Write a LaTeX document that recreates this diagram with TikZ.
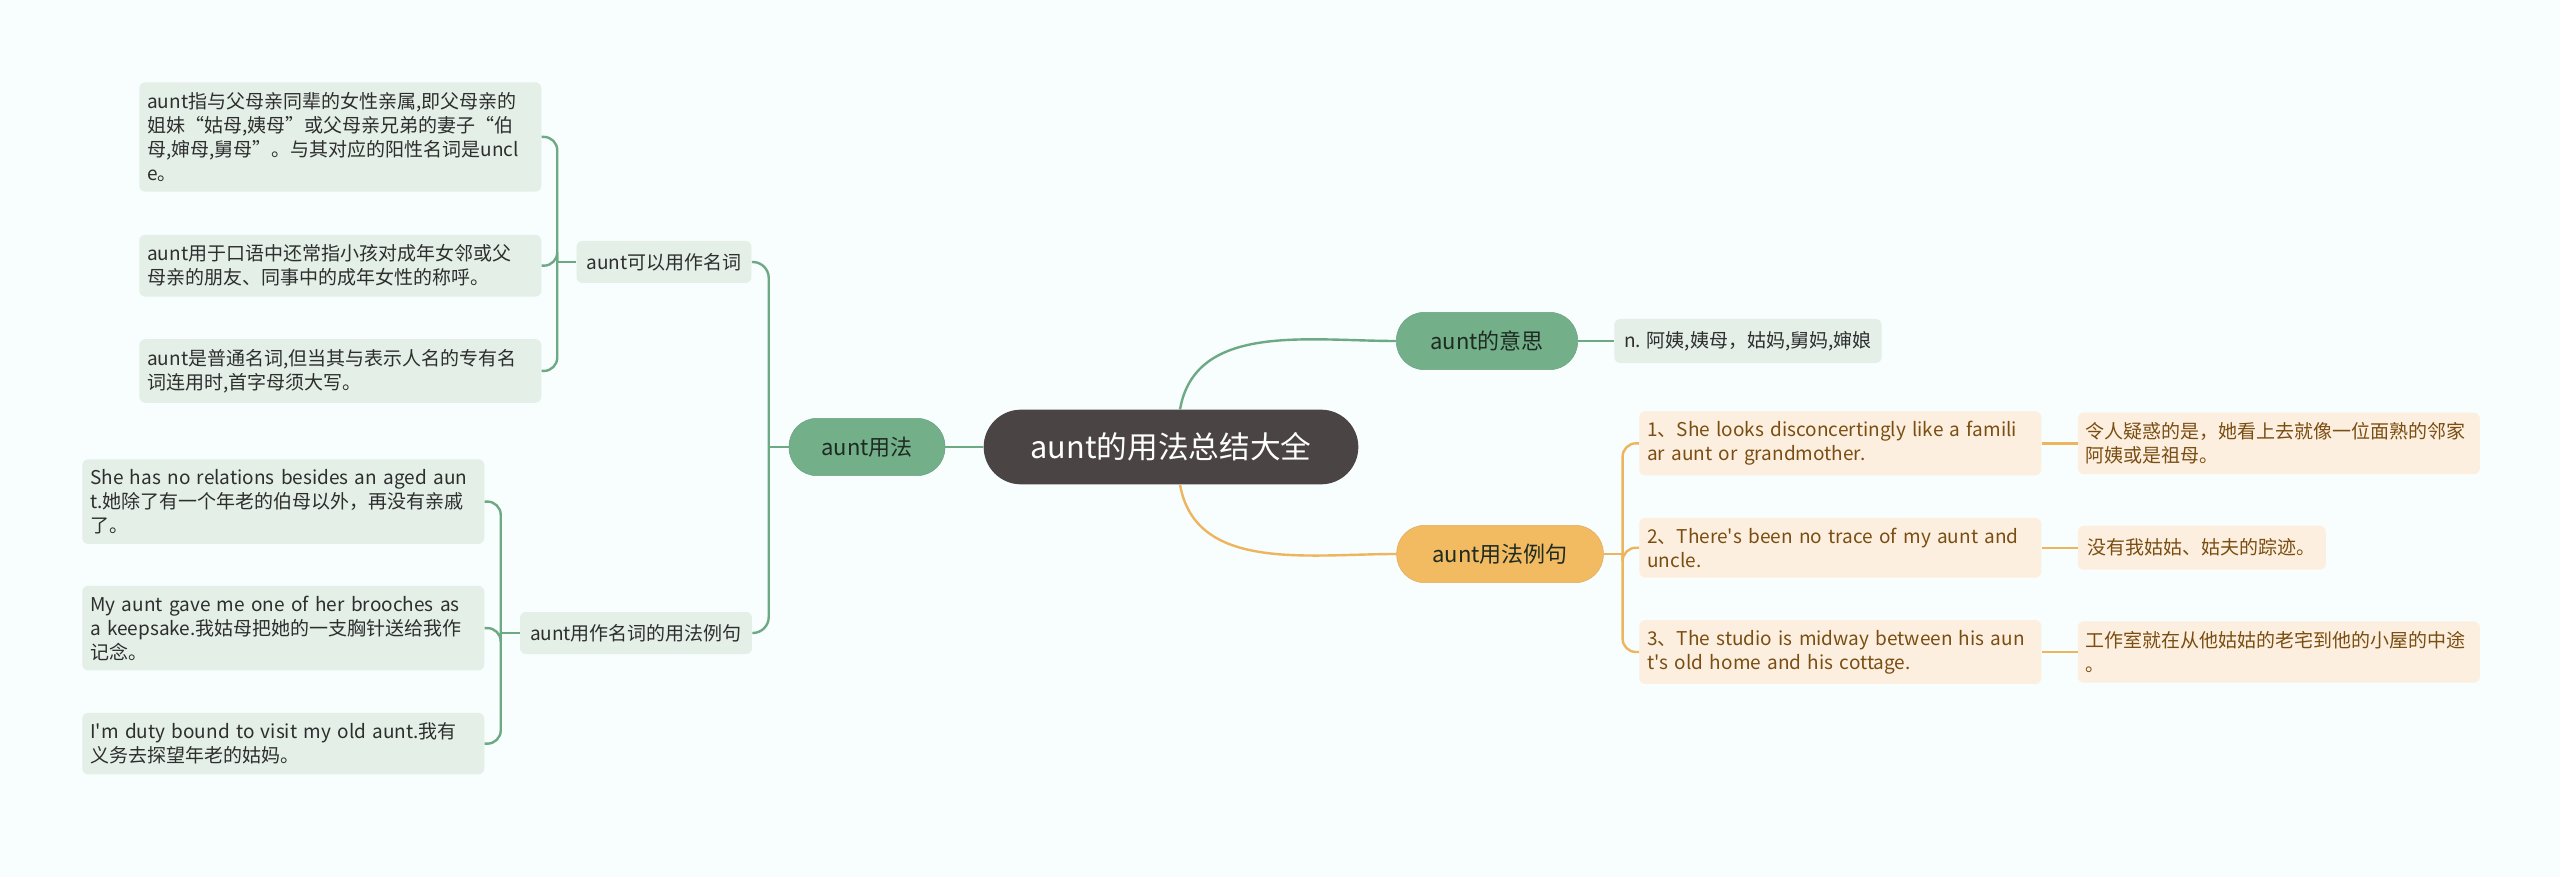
\documentclass[tikz,border=0pt]{standalone}
\usepackage{fontspec}
\setmainfont{Noto Sans CJK SC}
\usetikzlibrary{positioning,calc}
\definecolor{bgcol}{HTML}{F8FDFD}
\definecolor{rootcol}{HTML}{4A4544}
\definecolor{greencol}{HTML}{73B08A}
\definecolor{greenline}{HTML}{6DAA84}
\definecolor{greenlite}{HTML}{E3EFE7}
\definecolor{orangecol}{HTML}{F2BB62}
\definecolor{orangeline}{HTML}{ECB55E}
\definecolor{orangelite}{HTML}{FDEFDF}
\definecolor{browntext}{HTML}{7A4E12}
\definecolor{darktext}{HTML}{2E2E2E}
\definecolor{topictext}{HTML}{1E2B22}

\begin{document}
\begin{tikzpicture}[
  x=0.75pt, y=0.75pt,
  every node/.style={font=\fontsize{14.25}{18}\selectfont, text=darktext},
  %% dark centre pill
  root/.style={
    fill=rootcol, text=white,
    rounded corners=28pt,
    minimum width=281pt, minimum height=56pt,
    font=\fontsize{23}{27}\selectfont
  },
  %% coloured main branch  \node[topic=orangecol]{...}
  topic/.style={
    fill=#1, draw=#1!92!black,
    rounded corners=21pt,
    minimum height=43pt,
    font=\fontsize{16.5}{20}\selectfont, text=topictext
  },
  topic/.default=greencol,
  %% small green sub-branch
  sub/.style={
    fill=greenlite, rounded corners=4.5pt,
    minimum height=31.5pt, inner xsep=7.5pt
  },
  %% text boxes at the ends
  leaf/.style={
    fill=#1, rounded corners=4.5pt,
    text width=289.5pt, align=left,
    inner xsep=6pt, inner ysep=7.5pt
  },
  leaf/.default=greenlite,
  short/.style={
    fill=#1, rounded corners=4.5pt, align=left,
    minimum height=33pt, inner xsep=7.5pt
  },
  short/.default=greenlite,
  %% connectors
  link/.style={line width=1.8pt, draw=#1},
  link/.default=greenline,
]

\fill[bgcol] (0,0) rectangle (2560,-877);

%%── Centre and main branches ────────────────────────────────────────────────
\node[root] (root) at (1171,-447) {aunt的用法总结大全};

\node[topic, minimum width=117pt] (use)  at (867,-447)  {aunt用法};
\node[topic, minimum width=136pt] (mean) at (1487,-341) {aunt的意思};
\node[topic=orangecol, minimum width=155pt] (ex) at (1500,-554) {aunt用法例句};

%%── Left: aunt用法 ───────────────────────────────────────────────────────────
\node[sub] (noun)  at (664,-262) {aunt可以用作名词};
\node[sub] (nounex) at (636,-633) {aunt用作名词的用法例句};

\node[leaf, anchor=north west] (noun1) at (139,-82)
  {aunt指与父母亲同辈的女性亲属,即父母亲的\\
   姐妹“姑母,姨母”或父母亲兄弟的妻子“伯\\
   母,婶母,舅母”。与其对应的阳性名词是uncl\\
   e。};
\node[leaf, below=32pt of noun1] (noun2)
  {aunt用于口语中还常指小孩对成年女邻或父\\
   母亲的朋友、同事中的成年女性的称呼。};
\node[leaf, below=31.5pt of noun2] (noun3)
  {aunt是普通名词,但当其与表示人名的专有名\\
   词连用时,首字母须大写。};

\node[leaf, anchor=north west] (nounex1) at (82,-459)
  {She has no relations besides an aged aun\\
   t.她除了有一个年老的伯母以外，再没有亲戚\\
   了。};
\node[leaf, below=31pt of nounex1] (nounex2)
  {My aunt gave me one of her brooches as\\
   a keepsake.我姑母把她的一支胸针送给我作\\
   记念。};
\node[leaf, below=31.5pt of nounex2] (nounex3)
  {I\textquotesingle m duty bound to visit my old aunt.我有\\
   义务去探望年老的姑妈。};

%%── Right: aunt的意思 ───────────────────────────────────────────────────────
\node[short, anchor=west] (mean1) at (1614,-341) {n. 阿姨,姨母，姑妈,舅妈,婶娘};

%%── Right: aunt用法例句 ─────────────────────────────────────────────────────
\node[leaf=orangelite, text=browntext, anchor=north west] (ex1) at (1639,-411)
  {1、She looks disconcertingly like a famili\\
   ar aunt or grandmother.};
\node[leaf=orangelite, text=browntext, below=31.5pt of ex1] (ex2)
  {2、There\textquotesingle s been no trace of my aunt and\\
   uncle.};
\node[leaf=orangelite, text=browntext, below=31.5pt of ex2] (ex3)
  {3、The studio is midway between his aun\\
   t\textquotesingle s old home and his cottage.};

\node[leaf=orangelite, text=browntext, right=27pt of ex1] (tr1)
  {令人疑惑的是，她看上去就像一位面熟的邻家\\
   阿姨或是祖母。};
\node[short=orangelite, text=browntext, right=27pt of ex2] (tr2)
  {没有我姑姑、姑夫的踪迹。};
\node[leaf=orangelite, text=browntext, right=27pt of ex3] (tr3)
  {工作室就在从他姑姑的老宅到他的小屋的中途\\
   。};

%%── Junction points ──────────────────────────────────────────────────────────
\coordinate (rtop) at ($(root.north)+(9,0)$);
\coordinate (rbot) at ($(root.south)+(9,0)$);
\coordinate (juse)    at ($(use.west)+(-20,0)$);
\coordinate (jnoun)   at ($(noun.west)+(-19,0)$);
\coordinate (jnounex) at ($(nounex.west)+(-19,0)$);
\coordinate (jex)     at ($(ex.east)+(19,0)$);

%%── Connectors ───────────────────────────────────────────────────────────────
\draw[link] (root.west) -- (use.east);
\draw[link] (rtop) to[out=80,in=180] (mean.west);
\draw[link=orangeline] (rbot) to[out=-80,in=180] (ex.west);

\draw[link] (use.west) -- (juse);
\draw[link, rounded corners=12pt] (noun.east)   -| (juse);
\draw[link, rounded corners=12pt] (nounex.east) -| (juse);

\draw[link] (noun.west) -- (jnoun);
\draw[link, rounded corners=10pt] (noun1.east) -| (jnoun);
\draw[link, rounded corners=10pt] (noun2.east) -| (jnoun);
\draw[link, rounded corners=10pt] (noun3.east) -| (jnoun);

\draw[link] (nounex.west) -- (jnounex);
\draw[link, rounded corners=10pt] (nounex1.east) -| (jnounex);
\draw[link, rounded corners=10pt] (nounex2.east) -| (jnounex);
\draw[link, rounded corners=10pt] (nounex3.east) -| (jnounex);

\draw[link] (mean.east) -- (mean1.west);

\draw[link=orangeline] (ex.east) -- (jex);
\draw[link=orangeline, rounded corners=10pt] (ex1.west) -| (jex);
\draw[link=orangeline, rounded corners=10pt] (ex2.west) -| (jex);
\draw[link=orangeline, rounded corners=10pt] (ex3.west) -| (jex);

\draw[link=orangeline] (ex1) -- (tr1);
\draw[link=orangeline] (ex2) -- (tr2);
\draw[link=orangeline] (ex3) -- (tr3);

\end{tikzpicture}
\end{document}
